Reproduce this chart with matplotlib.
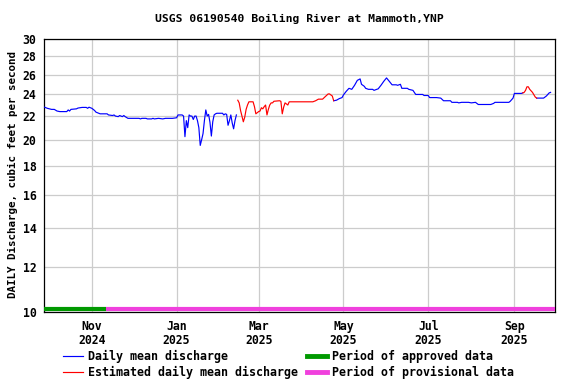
import matplotlib
matplotlib.use("Agg")
import matplotlib.pyplot as plt
from matplotlib.lines import Line2D
import pandas as pd

# Daily mean discharge (cfs)
blue1_dates = ["2024-09-28", "2024-09-30", "2024-10-03", "2024-10-05", "2024-10-07", "2024-10-09",
               "2024-10-14", "2024-10-15", "2024-10-16", "2024-10-17", "2024-10-21", "2024-10-22",
               "2024-10-25", "2024-10-28", "2024-10-29", "2024-10-30", "2024-11-01", "2024-11-02",
               "2024-11-03", "2024-11-04", "2024-11-07", "2024-11-12", "2024-11-13", "2024-11-16",
               "2024-11-17", "2024-11-18", "2024-11-20", "2024-11-21", "2024-11-23", "2024-11-24",
               "2024-11-25", "2024-11-27", "2024-12-05", "2024-12-06", "2024-12-07", "2024-12-10",
               "2024-12-11", "2024-12-14", "2024-12-15", "2024-12-16", "2024-12-19", "2024-12-22",
               "2024-12-24", "2024-12-29", "2025-01-01", "2025-01-02", "2025-01-05", "2025-01-06",
               "2025-01-07", "2025-01-08", "2025-01-09", "2025-01-10", "2025-01-11", "2025-01-12",
               "2025-01-13", "2025-01-14", "2025-01-15", "2025-01-16", "2025-01-17", "2025-01-18",
               "2025-01-19", "2025-01-20", "2025-01-21", "2025-01-22", "2025-01-23", "2025-01-24",
               "2025-01-25", "2025-01-26", "2025-01-27", "2025-01-28", "2025-01-29", "2025-01-30",
               "2025-02-03", "2025-02-04", "2025-02-05", "2025-02-06", "2025-02-07", "2025-02-08",
               "2025-02-09", "2025-02-10", "2025-02-11", "2025-02-12", "2025-02-13"]
blue1_cfs = [22.8, 22.7, 22.6, 22.6, 22.45, 22.4,
             22.4, 22.55, 22.45, 22.6, 22.65, 22.72,
             22.78, 22.78, 22.7, 22.8, 22.7, 22.6,
             22.5, 22.35, 22.2, 22.2, 22.1, 22.05,
             22.1, 22.0, 21.95, 22.05, 21.95, 22.05,
             21.95, 21.8, 21.8, 21.75, 21.8, 21.8,
             21.75, 21.75, 21.8, 21.75, 21.8, 21.75,
             21.8, 21.8, 21.85, 22.1, 22.1, 22.0,
             20.25, 21.6, 21.0, 22.1, 22.0, 22.0,
             21.7, 22.0, 22.0, 21.6, 21.0, 19.55,
             20.0, 20.5, 21.6, 22.55, 22.0, 22.15,
             21.45, 20.3, 21.5, 22.1, 22.2, 22.25,
             22.25, 22.1, 22.2, 22.15, 21.2, 21.6,
             22.1, 21.4, 20.9, 21.6, 22.1]

red1_dates = ["2025-02-14", "2025-02-15", "2025-02-16", "2025-02-17", "2025-02-18", "2025-02-19",
              "2025-02-20", "2025-02-21", "2025-02-22", "2025-02-25", "2025-02-26", "2025-02-27",
              "2025-02-28", "2025-03-01", "2025-03-02", "2025-03-03", "2025-03-04", "2025-03-05",
              "2025-03-06", "2025-03-07", "2025-03-08", "2025-03-09", "2025-03-10", "2025-03-11",
              "2025-03-12", "2025-03-16", "2025-03-17", "2025-03-18", "2025-03-19", "2025-03-20",
              "2025-03-21", "2025-03-22", "2025-03-23", "2025-04-09", "2025-04-11", "2025-04-13",
              "2025-04-16", "2025-04-18", "2025-04-20", "2025-04-21", "2025-04-23", "2025-04-24"]
red1_cfs = [23.45, 23.2, 22.5, 22.0, 21.5, 21.9,
            22.6, 23.0, 23.3, 23.3, 22.85, 22.2,
            22.3, 22.4, 22.45, 22.75, 22.65, 22.85,
            23.0, 22.1, 22.6, 23.0, 23.2, 23.2,
            23.35, 23.4, 23.35, 22.2, 22.8, 23.2,
            23.1, 23.0, 23.3, 23.3, 23.4, 23.55,
            23.55, 23.8, 24.05, 24.05, 23.85, 23.4]

blue2_dates = ["2025-04-24", "2025-04-26", "2025-04-28", "2025-04-30", "2025-05-01", "2025-05-03",
               "2025-05-05", "2025-05-07", "2025-05-09", "2025-05-11", "2025-05-13", "2025-05-14",
               "2025-05-16", "2025-05-17", "2025-05-19", "2025-05-22", "2025-05-23", "2025-05-26",
               "2025-05-28", "2025-05-30", "2025-06-01", "2025-06-03", "2025-06-05", "2025-06-08",
               "2025-06-09", "2025-06-11", "2025-06-12", "2025-06-16", "2025-06-17", "2025-06-20",
               "2025-06-22", "2025-06-27", "2025-06-28", "2025-07-01", "2025-07-02", "2025-07-07",
               "2025-07-10", "2025-07-12", "2025-07-17", "2025-07-18", "2025-07-22", "2025-07-23",
               "2025-07-25", "2025-07-30", "2025-08-01", "2025-08-04", "2025-08-06", "2025-08-15",
               "2025-08-17", "2025-08-18", "2025-08-28", "2025-08-29", "2025-08-31", "2025-09-01",
               "2025-09-06", "2025-09-07"]
blue2_cfs = [23.4, 23.45, 23.6, 23.7, 23.95, 24.3,
             24.6, 24.5, 24.9, 25.4, 25.55, 25.0,
             24.8, 24.6, 24.5, 24.5, 24.4, 24.55,
             24.9, 25.3, 25.65, 25.3, 24.95, 24.95,
             24.9, 25.0, 24.6, 24.6, 24.5, 24.4,
             24.0, 24.0, 23.9, 23.9, 23.7, 23.7,
             23.65, 23.4, 23.4, 23.25, 23.25, 23.2,
             23.25, 23.25, 23.2, 23.25, 23.05, 23.05,
             23.15, 23.25, 23.25, 23.35, 23.65, 24.1,
             24.1, 24.15]

red2_dates = ["2025-09-07", "2025-09-08", "2025-09-09", "2025-09-10", "2025-09-11", "2025-09-12",
              "2025-09-14", "2025-09-16", "2025-09-17"]
red2_cfs = [24.15, 24.2, 24.4, 24.75, 24.75, 24.5, 24.2, 23.75, 23.65]

blue3_dates = ["2025-09-17", "2025-09-22", "2025-09-23", "2025-09-24", "2025-09-26", "2025-09-27"]
blue3_cfs = [23.65, 23.65, 23.75, 23.85, 24.15, 24.2]

approved_end = "2024-11-11"
y_ticks = [10, 12, 14, 16, 18, 20, 22, 24, 26, 28, 30]

BLUE = "#0000ff"
RED = "#ff0000"
GREEN = "#009900"
PINK = "#f040dd"
FONT = dict(family="DejaVu Sans Mono", weight="bold")

fig = plt.figure(figsize=(5.76, 3.84), dpi=100)
ax = fig.add_axes([43.5 / 576, 72 / 384, 511 / 576, 273 / 384])

for d, v in [(blue1_dates, blue1_cfs), (blue2_dates, blue2_cfs), (blue3_dates, blue3_cfs)]:
    ax.plot(pd.to_datetime(d), v, color=BLUE, lw=0.85, zorder=3)
for d, v in [(red1_dates, red1_cfs), (red2_dates, red2_cfs)]:
    ax.plot(pd.to_datetime(d), v, color=RED, lw=0.85, zorder=3)

x0 = pd.Timestamp("2024-09-27 06:00")
x1 = pd.Timestamp("2025-09-29 20:00")
ax.set_xlim(x0, x1)
ax.set_yscale("log")
ax.set_ylim(10, 30)

# approved / provisional bars along the bottom
trans = ax.get_xaxis_transform()
ax.plot([x0, pd.Timestamp(approved_end)], [0.012, 0.012], transform=trans,
        color=GREEN, lw=3, solid_capstyle="butt", zorder=4, clip_on=False)
ax.plot([pd.Timestamp(approved_end), x1], [0.012, 0.012], transform=trans,
        color=PINK, lw=3, solid_capstyle="butt", zorder=4, clip_on=False)

ax.yaxis.set_major_locator(plt.FixedLocator(y_ticks))
ax.yaxis.set_minor_locator(plt.NullLocator())
ax.set_yticklabels([str(t) for t in y_ticks], fontsize=8.3, **FONT)
months = pd.date_range("2024-11-01", "2025-09-01", freq="2MS")
ax.set_xticks(months)
ax.set_xticklabels([m.strftime("%b\n%Y") for m in months], fontsize=8.3, linespacing=1.05, **FONT)
ax.tick_params(axis="both", length=0)
ax.tick_params(axis="y", pad=5)
ax.tick_params(axis="x", pad=6)
ax.grid(True, color="#cccccc", lw=0.9, zorder=0)
for s in ax.spines.values():
    s.set_linewidth(0.9)

fig.text(299 / 576, 1 - 19 / 384, "USGS 06190540 Boiling River at Mammoth,YNP",
         ha="center", va="center", fontsize=8.2, **FONT)
fig.text(13 / 576, 1 - 175 / 384, "DAILY Discharge, cubic feet per second",
         ha="center", va="center", rotation=90, fontsize=7.8, **FONT)

handles = [Line2D([], [], color=BLUE, lw=0.85),
           Line2D([], [], color=RED, lw=0.85),
           Line2D([], [], color=GREEN, lw=3.5),
           Line2D([], [], color=PINK, lw=3.5)]
labels = ["Daily mean discharge", "Estimated daily mean discharge",
          "Period of approved data", "Period of provisional data"]
fig.legend(handles, labels, ncol=2, loc="upper left", bbox_to_anchor=(63 / 576, 1 - 350 / 384),
           frameon=False, borderpad=0, borderaxespad=0, handlelength=1.7, handletextpad=0.45,
           columnspacing=0.75, labelspacing=0.25, prop=dict(size=8.4, **FONT))

fig.savefig("out.png", dpi=100)
